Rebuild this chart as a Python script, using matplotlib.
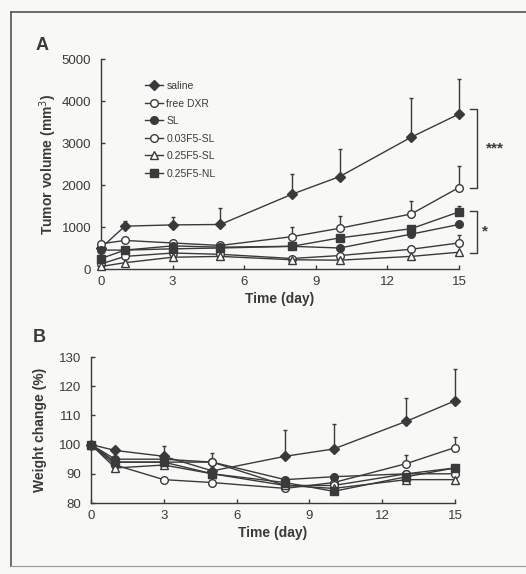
import numpy as np
import matplotlib
matplotlib.use('Agg')
import matplotlib.pyplot as plt
from matplotlib.lines import Line2D

plt.rcParams['font.family'] = ['Liberation Sans', 'DejaVu Sans']

# ── DATA ────────────────────────────────────────────────────────────────────────
days   = [0, 1, 3, 5, 8, 10, 13, 15]
groups = ['saline', 'free DXR', 'SL', '0.03F5-SL', '0.25F5-SL', '0.25F5-NL']

# tumor volume (mm3)
vol_saline = [500, 1020, 1050, 1060, 1780, 2200, 3140, 3690]
vol_dxr    = [600, 680, 620, 560, 770, 970, 1310, 1940]
vol_sl     = [450, 450, 550, 520, 540, 500, 830, 1060]
vol_003sl  = [120, 300, 380, 350, 250, 320, 470, 620]
vol_025sl  = [60, 150, 280, 300, 220, 210, 300, 400]
vol_025nl  = [250, 450, 480, 500, 540, 740, 960, 1360]

# upper error (mm3)
err_saline = [150, 130, 200, 400, 480, 650, 930, 830]
err_dxr    = [0, 0, 0, 0, 220, 290, 300, 520]
err_sl     = [0, 0, 0, 0, 0, 0, 0, 0]
err_003sl  = [0, 0, 0, 0, 0, 0, 0, 180]
err_025sl  = [0, 0, 0, 0, 0, 0, 0, 0]
err_025nl  = [0, 0, 0, 0, 0, 0, 0, 150]

# weight change (%)
wt_saline = [100, 98, 96, 91, 96, 98.5, 108, 115]
wt_dxr    = [100, 93, 88, 87, 85, 87, 93.5, 99]
wt_sl     = [100, 95, 95, 94, 88, 89, 90, 92]
wt_003sl  = [100, 94, 94, 94, 86, 86, 90, 90]
wt_025sl  = [100, 92, 93, 90, 86, 85, 88, 88]
wt_025nl  = [100, 94, 94, 90, 87, 84, 89, 92]

wer_saline = [0, 0, 3.5, 6, 9, 8.5, 8, 11]
wer_dxr    = [0, 0, 0, 0, 0, 0, 3, 3.5]
wer_sl     = [0, 0, 0, 0, 0, 0, 0, 0]
wer_003sl  = [0, 0, 0, 0, 0, 0, 0, 0]
wer_025sl  = [0, 0, 0, 0, 0, 0, 0, 0]
wer_025nl  = [0, 0, 0, 0, 0, 0, 0, 0]

vols = [vol_saline, vol_dxr, vol_sl, vol_003sl, vol_025sl, vol_025nl]
verr = [err_saline, err_dxr, err_sl, err_003sl, err_025sl, err_025nl]
wts  = [wt_saline, wt_dxr, wt_sl, wt_003sl, wt_025sl, wt_025nl]
werr = [wer_saline, wer_dxr, wer_sl, wer_003sl, wer_025sl, wer_025nl]

# ── STYLE ───────────────────────────────────────────────────────────────────────
ink = '#3a3a3a'
markers = ['D', 'o', 'o', 'o', '^', 's']
faces   = [ink, 'white', ink, 'white', 'white', ink]
msizes  = [5, 5.5, 5.5, 5.5, 5.5, 5.5]

W, H = 526, 574
fig = plt.figure(figsize=(W / 100, H / 100), dpi=100)
fig.patch.set_facecolor('#f8f8f6')

def px_axes(l, r, t, b):
    return fig.add_axes([l / W, 1 - b / H, (r - l) / W, (b - t) / H])

axA = px_axes(101, 459, 59, 269)
axB = px_axes(91, 455, 357, 503)

def style(ax):
    ax.set_facecolor('none')
    for s in ['top', 'right']:
        ax.spines[s].set_visible(False)
    for s in ['left', 'bottom']:
        ax.spines[s].set_color(ink)
        ax.spines[s].set_linewidth(1.0)
    ax.tick_params(direction='in', length=3, width=1, color=ink,
                   labelcolor=ink, labelsize=9.5)
    ax.tick_params(axis='y', pad=7)
    ax.tick_params(axis='x', pad=5)
    ax.set_xlim(0, 15)
    ax.set_xticks(np.arange(0, 16, 3))

def draw(ax, data, errs):
    for y, e, m, fc, ms, lab in zip(data, errs, markers, faces, msizes, groups):
        ax.errorbar(days, y, yerr=[np.zeros(len(e)), e], color=ink, lw=1.0,
                    elinewidth=1.0, capsize=1.6, capthick=1.0,
                    marker=m, mfc=fc, mec=ink, ms=ms, mew=1.0,
                    label=lab, clip_on=False, zorder=3)

# ── PANEL A ─────────────────────────────────────────────────────────────────────
style(axA)
draw(axA, vols, verr)
axA.set_ylim(0, 5000)
axA.set_yticks(np.arange(0, 5001, 1000))
axA.set_ylabel('Tumor volume (mm$^3$)', fontsize=10, fontweight='bold',
               color=ink, labelpad=2)
axA.set_xlabel('Time (day)', fontsize=10, fontweight='bold', color=ink,
               labelpad=3)

handles = [Line2D([], [], color=ink, lw=1.0, marker=m, mfc=fc, mec=ink,
                  ms=ms, mew=1.0) for m, fc, ms in zip(markers, faces, msizes)]
leg = axA.legend(handles, groups, loc='upper left',
                 bbox_to_anchor=(0.11, 0.915), frameon=False, fontsize=7.5,
                 handlelength=1.8, handletextpad=0.3, labelspacing=0.72,
                 borderaxespad=0)
for t in leg.get_texts():
    t.set_color(ink)

# significance brackets
bx, tip = 15.75, 15.45
axA.plot([tip, bx, bx, tip], [3810, 3810, 1930, 1930], color=ink, lw=1.0,
         clip_on=False)
axA.plot([tip, bx, bx, tip], [1380, 1380, 380, 380], color=ink, lw=1.0,
         clip_on=False)
axA.text(16.5, 2880, '***', ha='center', va='center', fontsize=11,
         fontweight='bold', color=ink, clip_on=False)
axA.text(16.1, 900, '*', ha='center', va='center', fontsize=11,
         fontweight='bold', color=ink, clip_on=False)

# ── PANEL B ─────────────────────────────────────────────────────────────────────
style(axB)
draw(axB, wts, werr)
axB.set_ylim(80, 130)
axB.set_yticks(np.arange(80, 131, 10))
axB.set_ylabel('Weight change (%)', fontsize=10, fontweight='bold',
               color=ink, labelpad=9)
axB.set_xlabel('Time (day)', fontsize=10, fontweight='bold', color=ink,
               labelpad=3)

# panel letters
fig.text(42 / W, 1 - 45 / H, 'A', fontsize=13, fontweight='bold', color=ink,
         va='center', ha='center')
fig.text(39 / W, 1 - 337 / H, 'B', fontsize=13, fontweight='bold', color=ink,
         va='center', ha='center')

# scanned frame
fig.add_artist(Line2D([11 / W, 11 / W], [1 - 12 / H, 1 - 566 / H],
                      color='#555555', lw=1.2))
fig.add_artist(Line2D([11 / W, 1.0], [1 - 12 / H, 1 - 12 / H],
                      color='#555555', lw=1.2))
fig.add_artist(Line2D([11 / W, 1.0], [1 - 566 / H, 1 - 566 / H],
                      color='#999999', lw=0.8))

fig.savefig('out.png', dpi=100, facecolor=fig.get_facecolor())
